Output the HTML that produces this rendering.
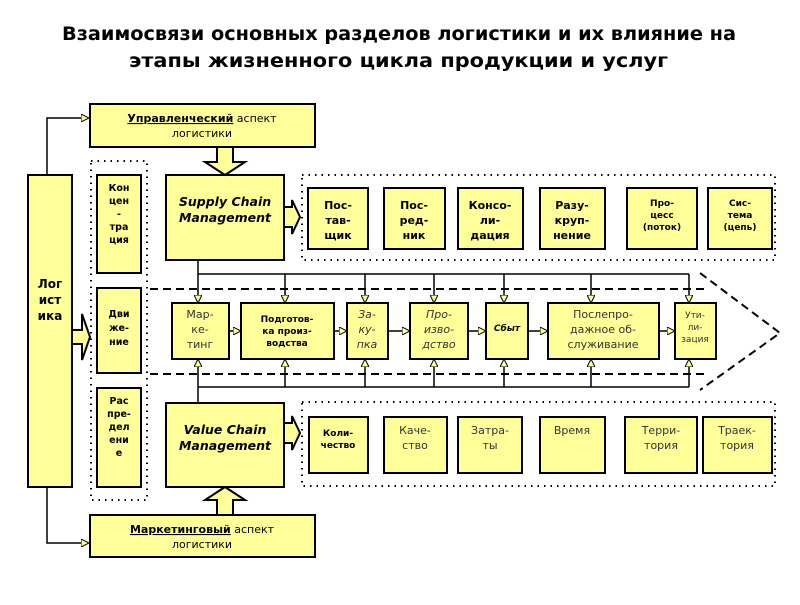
<!DOCTYPE html>
<html><head><meta charset="utf-8"><style>
body{margin:0;background:#fff;}
svg text{font-family:"DejaVu Sans","Liberation Sans",sans-serif;}
</style></head><body>
<svg width="800" height="600" viewBox="0 0 800 600" xmlns="http://www.w3.org/2000/svg">
<defs>
<marker id="ah" markerWidth="8" markerHeight="8" refX="7" refY="4" orient="auto" markerUnits="userSpaceOnUse">
<path d="M0,0 L8,4 L0,8 Z" fill="#ffff99" stroke="#000" stroke-width="1"/></marker>
</defs>
<text x="62" y="40" textLength="674" lengthAdjust="spacingAndGlyphs" font-size="18.5" font-weight="bold" style="font-family:'DejaVu Sans',sans-serif">Взаимосвязи основных разделов логистики и их влияние на</text>
<text x="129" y="67" textLength="539" lengthAdjust="spacingAndGlyphs" font-size="18.5" font-weight="bold" style="font-family:'DejaVu Sans',sans-serif">этапы жизненного цикла продукции и услуг</text>

<g fill="#ffff99" stroke="#000" stroke-width="2">
<path d="M47,175 V118 H88" fill="none" stroke-width="1.5" marker-end="url(#ah)"/>
<path d="M47,487 V543 H88" fill="none" stroke-width="1.5" marker-end="url(#ah)"/>
<rect x="90" y="104" width="225" height="43"/>
<rect x="90" y="515" width="225" height="42"/>
<rect x="28" y="175" width="44" height="312"/>
<rect x="91" y="161" width="56" height="339" fill="none" stroke-width="2" stroke-dasharray="1.5,5"/>
<rect x="302" y="175" width="473" height="85" fill="none" stroke-width="2" stroke-dasharray="1.5,5"/>
<rect x="302" y="402" width="473" height="84" fill="none" stroke-width="2" stroke-dasharray="1.5,5"/>
<rect x="97" y="175" width="44" height="98"/>
<rect x="97" y="288" width="44" height="85"/>
<rect x="97" y="388" width="44" height="99"/>
<rect x="166" y="175" width="118" height="85"/>
<rect x="166" y="403" width="118" height="84"/>
<path d="M217,147 H233 V162 H245 L225,175 L205,162 H217 Z"/>
<path d="M217,515 H233 V500 H245 L225,487 L205,500 H217 Z"/>
<path d="M284,207 H292 V200 L300,217 L292,234 V227 H284 Z"/>
<path d="M284,423 H292 V416 L300,433 L292,450 V443 H284 Z"/>
<path d="M72,330 H82 V314 L90,337 L82,360 V344 H72 Z"/>
<path d="M150,289 H704 M150,374 H704 M700,273 L780,333 L700,390" fill="none" stroke-width="2" stroke-dasharray="8,5"/>
<path d="M198,260 V274 H689 M198,387 H689 M198,403 V387" fill="none" stroke-width="1.5"/>
<g fill="none" stroke-width="1.5" marker-end="url(#ah)">
<path d="M198,274 V302"/><path d="M285,274 V302"/><path d="M365,274 V302"/><path d="M434,274 V302"/><path d="M504,274 V302"/><path d="M591,274 V302"/><path d="M689,274 V302"/>
<path d="M198,387 V360"/><path d="M285,387 V360"/><path d="M365,387 V360"/><path d="M434,387 V360"/><path d="M504,387 V360"/><path d="M591,387 V360"/><path d="M689,387 V360"/>
<path d="M229,331 H240"/><path d="M334,331 H346"/><path d="M388,331 H409"/><path d="M468,331 H485"/><path d="M528,331 H547"/><path d="M659,331 H674"/>
</g>
<rect x="172" y="303" width="57" height="56"/>
<rect x="241" y="303" width="93" height="56"/>
<rect x="347" y="303" width="41" height="56"/>
<rect x="410" y="303" width="58" height="56"/>
<rect x="486" y="303" width="42" height="56"/>
<rect x="548" y="303" width="111" height="56"/>
<rect x="675" y="303" width="41" height="56"/>
<rect x="308" y="188" width="60" height="61"/>
<rect x="384" y="188" width="61" height="61"/>
<rect x="458" y="188" width="65" height="61"/>
<rect x="540" y="188" width="65" height="61"/>
<rect x="627" y="188" width="70" height="61"/>
<rect x="708" y="188" width="64" height="61"/>
<rect x="309" y="417" width="59" height="56"/>
<rect x="384" y="417" width="63" height="56"/>
<rect x="458" y="417" width="64" height="56"/>
<rect x="540" y="417" width="65" height="56"/>
<rect x="625" y="417" width="72" height="56"/>
<rect x="703" y="417" width="69" height="56"/>
</g>

<g font-size="11" text-anchor="middle" fill="#000">
<text x="202" y="122"><tspan font-weight="bold" text-decoration="underline">Управленческий</tspan> аспект</text>
<text x="202" y="137">логистики</text>
<text x="202" y="533"><tspan font-weight="bold" text-decoration="underline">Маркетинговый</tspan> аспект</text>
<text x="202" y="548">логистики</text>
<g font-weight="bold" font-size="12"><text x="50" y="288">Лог</text><text x="50" y="304">ист</text><text x="50" y="320">ика</text></g>
<g font-weight="bold" font-size="9.5">
<text x="119" y="191">Кон</text><text x="119" y="204">цен</text><text x="119" y="217">-</text><text x="119" y="230">тра</text><text x="119" y="243">ция</text>
<text x="119" y="317">Дви</text><text x="119" y="331">же-</text><text x="119" y="345">ние</text>
<text x="119" y="404">Рас</text><text x="119" y="417">пре-</text><text x="119" y="430">дел</text><text x="119" y="443">ени</text><text x="119" y="456">е</text>
</g>
<g font-weight="bold" font-style="italic" font-size="12.5">
<text x="225" y="206">Supply Chain</text><text x="225" y="222">Management</text>
<text x="225" y="434">Value Chain</text><text x="225" y="450">Management</text>
</g>
<g font-weight="bold" font-size="11">
<text x="338" y="209">Пос-</text><text x="338" y="224">тав-</text><text x="338" y="239">щик</text>
<text x="414" y="209">Пос-</text><text x="414" y="224">ред-</text><text x="414" y="239">ник</text>
<text x="490" y="209">Консо-</text><text x="490" y="224">ли-</text><text x="490" y="239">дация</text>
<text x="572" y="209">Разу-</text><text x="572" y="224">круп-</text><text x="572" y="239">нение</text>
</g>
<g font-weight="bold" font-size="9">
<text x="662" y="206">Про-</text><text x="662" y="218">цесс</text><text x="662" y="230">(поток)</text>
<text x="740" y="206">Сис-</text><text x="740" y="218">тема</text><text x="740" y="230">(цепь)</text>
<text x="287" y="322">Подготов-</text><text x="287" y="334">ка произ-</text><text x="287" y="346">водства</text>
<text x="507" y="331" font-style="italic">Сбыт</text>
<text x="338" y="436">Коли-</text><text x="338" y="448">чество</text>
</g>
<g font-size="11" fill="#333">
<text x="200" y="318">Мар-</text><text x="200" y="333">ке-</text><text x="200" y="348">тинг</text>
<g font-style="italic"><text x="367" y="318">За-</text><text x="367" y="333">ку-</text><text x="367" y="348">пка</text>
<text x="439" y="318">Про-</text><text x="439" y="333">изво-</text><text x="439" y="348">дство</text></g>
<text x="603" y="318">Послепро-</text><text x="603" y="333">дажное об-</text><text x="603" y="348">служивание</text>
<text x="415" y="434">Каче-</text><text x="415" y="449">ство</text>
<text x="490" y="434">Затра-</text><text x="490" y="449">ты</text>
<text x="572" y="434">Время</text>
<text x="661" y="434">Терри-</text><text x="661" y="449">тория</text>
<text x="737" y="434">Траек-</text><text x="737" y="449">тория</text>
</g>
<g font-size="9" fill="#333"><text x="695" y="318">Ути-</text><text x="695" y="330">ли-</text><text x="695" y="342">зация</text></g>
</g>
</svg>
</body></html>
